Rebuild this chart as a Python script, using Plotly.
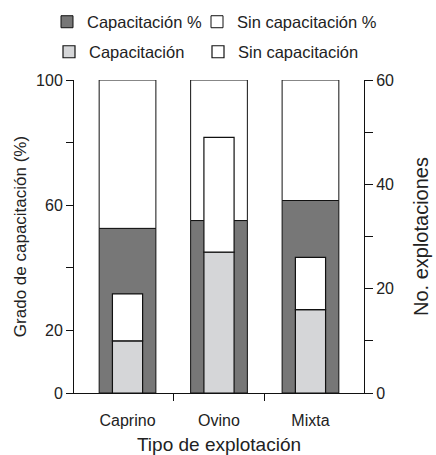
import plotly.graph_objects as go

categories = ["Caprino", "Ovino", "Mixta"]
cap_pct = [52.6, 55.1, 61.5]
sin_pct = [47.4, 44.9, 38.5]
cap_n = [10, 27, 16]
sin_n = [9, 22, 10]

x = list(range(len(categories)))
font = "Liberation Sans, Arial, sans-serif"
txt = "#222222"
dark = "#777777"
light = "#d5d6d8"
edge = "#111111"

W, H = 436, 455
ML, MR, MT, MB = 74, 72, 80, 62
PW, PH = W - ML - MR, H - MT - MB

fig = go.Figure()
fig.add_trace(go.Bar(x=x, y=cap_pct, width=0.62, name="Capacitación %",
                     marker=dict(color=dark, line=dict(color=edge, width=1)),
                     yaxis="y", legend="legend"))
fig.add_trace(go.Bar(x=x, y=sin_pct, base=cap_pct, width=0.62, name="Sin capacitación %",
                     marker=dict(color="white", line=dict(color=edge, width=1)),
                     yaxis="y", legend="legend2"))
fig.add_trace(go.Bar(x=x, y=cap_n, width=0.33, name="Capacitación",
                     marker=dict(color=light, line=dict(color=edge, width=1.2)),
                     yaxis="y2", legend="legend3"))
fig.add_trace(go.Bar(x=x, y=sin_n, base=cap_n, width=0.33, name="Sin capacitación",
                     marker=dict(color="white", line=dict(color=edge, width=1.2)),
                     yaxis="y2", legend="legend4"))


def leg(xpx, ypx):
    return dict(x=(xpx - ML) / PW, y=(H - MB - ypx) / PH,
                xanchor="left", yanchor="middle", font=dict(size=16.5, color=txt),
                itemwidth=30, bgcolor="rgba(0,0,0,0)", visible=True)


fig.update_layout(
    width=W, height=H,
    margin=dict(l=ML, r=MR, t=MT, b=MB, autoexpand=False),
    barmode="overlay",
    showlegend=True,
    plot_bgcolor="white", paper_bgcolor="white",
    font=dict(family=font, size=16, color=txt),
    xaxis=dict(range=[-0.585, 2.585], tickmode="array", tickvals=x, ticktext=categories,
               ticks="", showline=True, linecolor=edge, linewidth=1, showgrid=False,
               zeroline=False, automargin=False, ticklabelstandoff=13,
               minor=dict(ticks="outside", tickmode="array", tickvals=[0.5, 1.5],
                          ticklen=7, tickcolor=edge, showgrid=False),
               title=dict(text="Tipo de explotación", font=dict(size=19), standoff=10)),
    yaxis=dict(range=[0, 100], tickmode="array", tickvals=[0, 20, 40, 60, 80, 100],
               ticktext=["0", "20", "", "60", "", "100"], ticks="outside", ticklen=7,
               tickcolor=edge, showline=True, linecolor=edge, linewidth=1,
               showgrid=False, zeroline=False, automargin=False,
               title=dict(text="Grado de capacitación (%)", font=dict(size=17), standoff=5)),
    yaxis2=dict(range=[0, 60], overlaying="y", side="right", tickmode="array",
                tickvals=[0, 10, 20, 30, 40, 50, 60],
                ticktext=["0", "", "20", "", "40", "", "60"], ticks="outside", ticklen=8,
                tickcolor=edge, showline=True, linecolor=edge, linewidth=1,
                showgrid=False, zeroline=False, automargin=False,
                title=dict(text="No. explotaciones", font=dict(size=20), standoff=20)),
    legend=leg(47, 22),
    legend2=leg(197, 22),
    legend3=leg(49, 52),
    legend4=leg(198, 52),
)

fig.write_html("out.html", config={"displayModeBar": False},
               post_script="document.body.style.margin='0px';")
